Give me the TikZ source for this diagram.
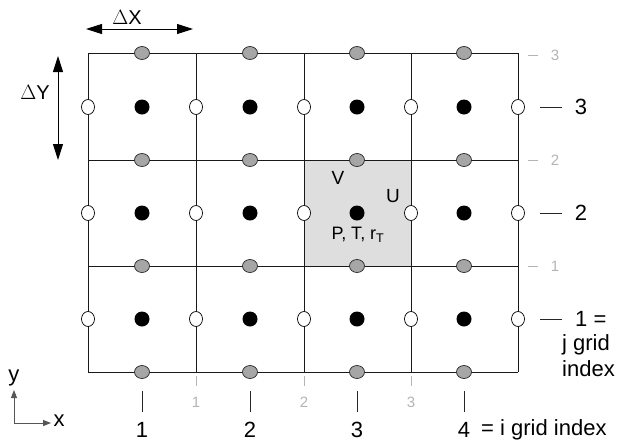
\documentclass[tikz,border=0pt]{standalone}
\usepackage{fontspec}
\setmainfont{Liberation Sans}
\usetikzlibrary{arrows.meta,shapes.geometric}
\definecolor{dotgray}{HTML}{A6A6A6}
\definecolor{cellgray}{HTML}{DEDEDE}
\definecolor{lblgray}{HTML}{B4B4B4}
\definecolor{axgray}{HTML}{555555}
\tikzset{
  gridline/.style={line width=0.9pt, draw=black!90},
  vdot/.style={ellipse, draw=black!85, fill=dotgray, line width=0.7pt, minimum width=15pt, minimum height=13pt, inner sep=0pt},
  udot/.style={ellipse, draw=black, fill=white, line width=0.7pt, minimum width=13pt, minimum height=15pt, inner sep=0pt},
  pdot/.style={circle, fill=black, minimum size=15pt, inner sep=0pt},
  biglbl/.style={font=\fontsize{22}{24}\selectfont, inner sep=0pt},
  celllbl/.style={font=\fontsize{19}{21}\selectfont, inner sep=0pt},
  smalllbl/.style={font=\fontsize{15}{17}\selectfont, text=lblgray, inner sep=0pt},
  bigtick/.style={line width=0.9pt, draw=black!85},
  smalltick/.style={line width=0.8pt, draw=lblgray},
  dimarrow/.style={line width=1pt, {Triangle[length=16pt,width=10pt]}-{Triangle[length=16pt,width=10pt]}},
  axarrow/.style={line width=1pt, draw=axgray, -{Triangle[length=8pt,width=6pt]}},
}
\begin{document}
\begin{tikzpicture}[x=1pt,y=-1pt]
\useasboundingbox (0,0) rectangle (621,445);
% shaded cell
\fill[cellgray] (304,160) rectangle (411,266);
% grid
\foreach \x in {88,196,304,411,518} \draw[gridline] (\x,53) -- (\x,372);
\foreach \y in {53,160,266,372} \draw[gridline] (88,\y) -- (518,\y);
% dots
\foreach \x [count=\i] in {142,250,357,464} {
  \foreach \y [count=\j] in {319,213,107} {
    \node[pdot] (p\i\j) at (\x,\y) {};
  }
  \foreach \y [count=\j] in {372,266,160,53} {
    \node[vdot] (v\i\j) at (\x,\y) {};
  }
}
\foreach \x [count=\i] in {88,196,304,411,518} {
  \foreach \y [count=\j] in {319,213,107} {
    \node[udot] (u\i\j) at (\x,\y) {};
  }
}
% cell labels
\node[celllbl] (lV) at (338,178) {V};
\node[celllbl] (lU) at (393,196) {U};
\node[celllbl, font=\fontsize{18}{20}\selectfont] (lP) at (358,235) {P, T, r\textsubscript{T}};
% delta arrows
\coordinate (dxa) at (86,29);
\coordinate (dxb) at (193,29);
\draw[dimarrow] (dxa) -- (dxb);
\node[biglbl, font=\fontsize{20}{22}\selectfont] (lDX) at (127,17) {$\Delta$X};
\coordinate (dya) at (58,56);
\coordinate (dyb) at (58,160);
\draw[dimarrow] (dya) -- (dyb);
\node[biglbl, font=\fontsize{20}{22}\selectfont] (lDY) at (35,92) {$\Delta$Y};
% right labels: gray (v-levels)
\foreach \y/\t in {55/3,160/2,266/1} {
  \coordinate (gr\t a) at (528,\y);
  \coordinate (gr\t b) at (538,\y);
  \draw[smalltick] (gr\t a) -- (gr\t b);
  \node[smalllbl] (gl\t) at (555,\y) {\t};
}
% right labels: black (j index)
\foreach \y/\t in {107/3,213/2,319/1} {
  \coordinate (jr\t a) at (540,\y);
  \coordinate (jr\t b) at (562,\y);
  \draw[bigtick] (jr\t a) -- (jr\t b);
}
\node[biglbl] (j3) at (581,107) {3};
\node[biglbl] (j2) at (581,213) {2};
\node[biglbl, anchor=west] (j1) at (575,319) {1 =};
\node[biglbl, anchor=west] (jg) at (562,345) {j grid};
\node[biglbl, anchor=west] (ji) at (562,369) {index};
% bottom: gray ticks (u-levels)
\foreach \x/\t in {196/1,304/2,411/3} {
  \coordinate (bg\t a) at (\x,376);
  \coordinate (bg\t b) at (\x,386);
  \draw[smalltick] (bg\t a) -- (bg\t b);
  \node[smalllbl] (bgl\t) at (\x,402) {\t};
}
% bottom: black ticks (i index)
\foreach \x/\t in {142/1,250/2,357/3,464/4} {
  \coordinate (bb\t a) at (\x,391);
  \coordinate (bb\t b) at (\x,412);
  \draw[bigtick] (bb\t a) -- (bb\t b);
  \node[biglbl] (bl\t) at (\x,430) {\t};
}
\node[biglbl, anchor=west] (ilbl) at (481,430) {= i grid index};
% axes
\coordinate (ax0) at (14,423);
\coordinate (axy) at (14,390);
\coordinate (axx) at (51,423);
\draw[axarrow] (ax0) -- (axy);
\draw[axarrow] (ax0) -- (axx);
\node[biglbl] (ly) at (14,378) {y};
\node[biglbl] (lx) at (59,421) {x};
\end{tikzpicture}
\end{document}
